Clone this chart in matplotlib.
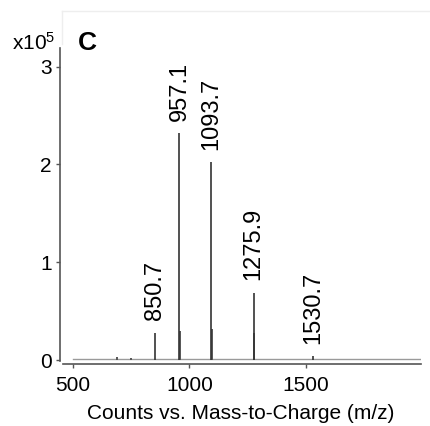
import matplotlib
matplotlib.use('Agg')
import matplotlib.pyplot as plt
from matplotlib.lines import Line2D

# Dati (intensita' in unita' di 1e5 conteggi)
peak_mz = [850.7, 957.1, 1093.7, 1275.9, 1530.7]
peak_int = [0.28, 2.32, 2.02, 0.69, 0.04]
peak_labels = ['850.7', '957.1', '1093.7', '1275.9', '1530.7']

# picchi minori senza etichetta
minor_mz = [690, 750, 960, 1096, 1278]
minor_int = [0.03, 0.025, 0.30, 0.32, 0.28]

# linea di base
base_mz = [500, 1995]
base_int = [0.008, 0.008]

plt.rcParams.update({
    "font.family": ["Liberation Sans", "DejaVu Sans"],
    "mathtext.fontset": "custom",
    "mathtext.rm": "Liberation Sans",
    "font.size": 15,
})

fig = plt.figure(figsize=(4.3, 4.26), dpi=100)
W, H = 430, 426
ax = fig.add_axes([60 / W, (H - 361) / H, (421 - 60) / W, (361 - 48) / H])

ax.plot(base_mz, base_int, color='#9a9a9a', lw=1.0)
ax.vlines(minor_mz, 0, minor_int, color='#555555', lw=1.4)
ax.vlines(peak_mz, 0, peak_int, color='#333333', lw=1.2)

for mz, h, lab in zip(peak_mz, peak_int, peak_labels):
    ax.annotate(lab, (mz, h), xytext=(0, 9), textcoords='offset points',
                rotation=90, ha='center', va='bottom', fontsize=17)

ax.set_xlim(444, 1995)
ax.set_ylim(-0.01, 3.19)
ax.set_xticks([500, 1000, 1500])
ax.set_yticks([0, 1, 2, 3])

for s in ['top', 'right']:
    ax.spines[s].set_visible(False)
ax.spines['left'].set_color('#555555')
ax.spines['bottom'].set_color('#555555')
ax.spines['left'].set_linewidth(1.2)
ax.spines['bottom'].set_linewidth(1.2)
ax.spines['bottom'].set_position(('outward', 2))
ax.spines['bottom'].set_bounds(457, 1995)

ax.tick_params(axis='both', length=3, width=1, color='#555555', labelsize=15)
ax.tick_params(axis='y', pad=3)
ax.tick_params(axis='x', pad=6)

ax.set_xlabel('Counts vs. Mass-to-Charge (m/z)', fontsize=15, labelpad=6)

fig.text(55 / W, (H - 50) / H, r'x10$\mathregular{^5}$', ha='right', va='baseline', fontsize=15)
fig.text(78 / W, (H - 50) / H, 'C', ha='left', va='baseline', fontsize=19, fontweight='bold')

# cornice chiara del pannello
fig.add_artist(Line2D([62 / W, 1.0], [(H - 11) / H, (H - 11) / H], color='#eeeeee', lw=1))
fig.add_artist(Line2D([62 / W, 62 / W], [(H - 11) / H, (H - 44) / H], color='#eeeeee', lw=1))

fig.savefig('out.png', dpi=100)
